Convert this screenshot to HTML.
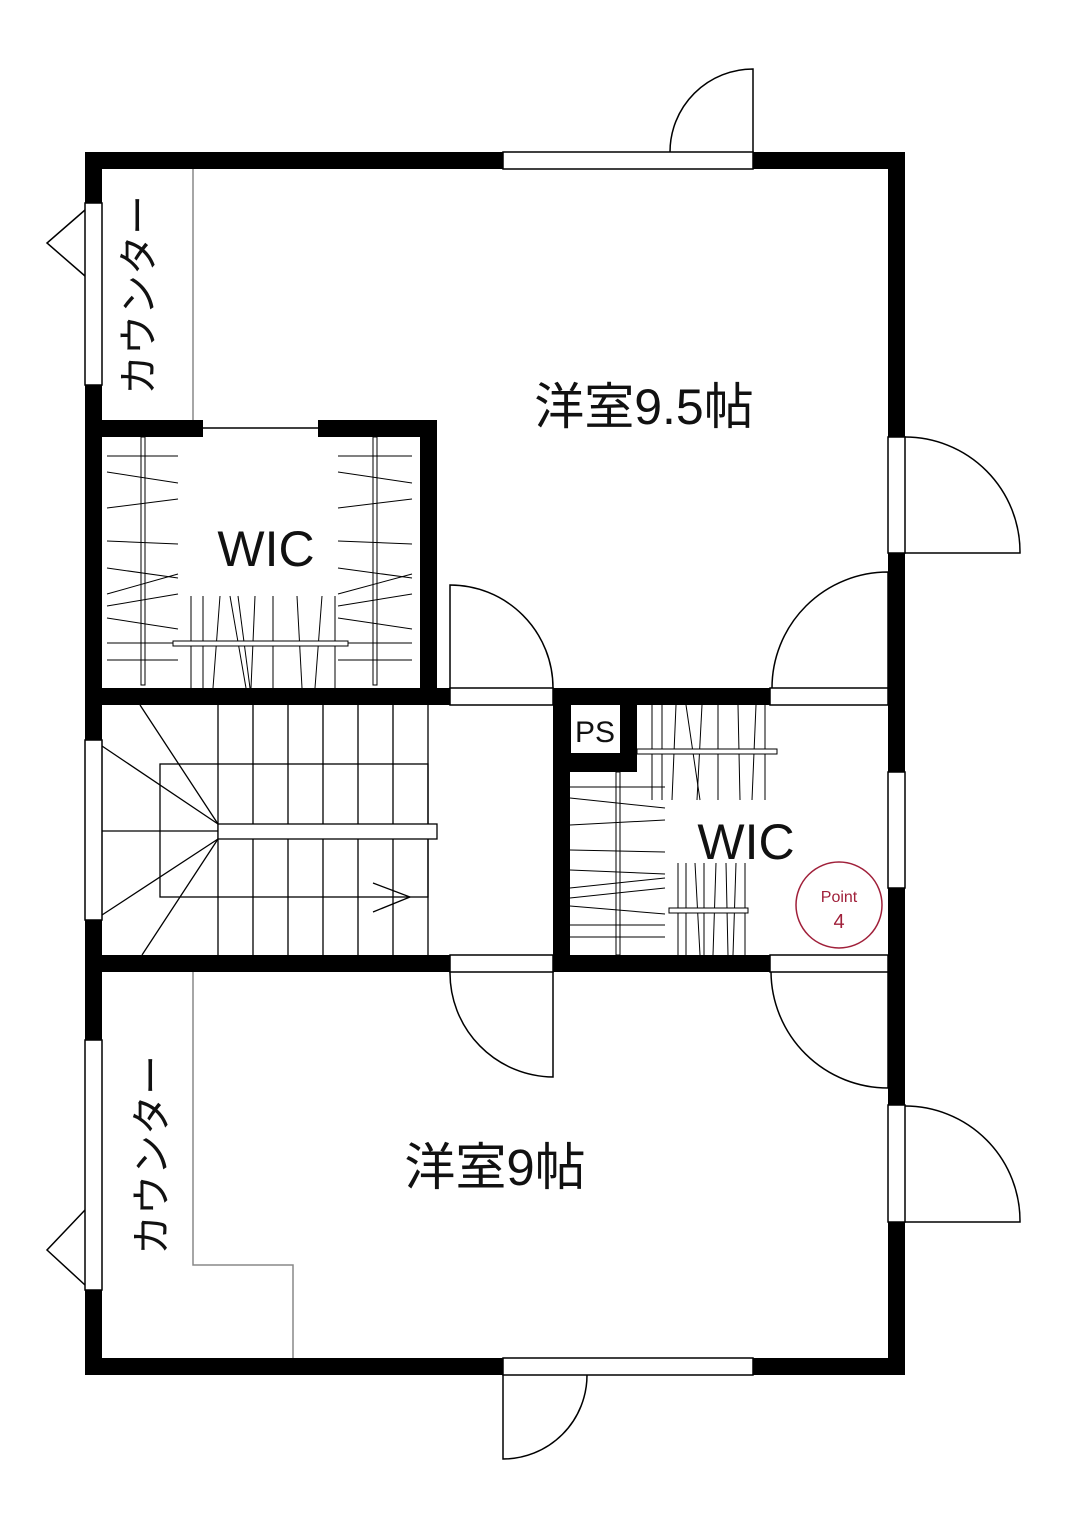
<!DOCTYPE html>
<html><head><meta charset="utf-8"><style>
html,body{margin:0;padding:0;background:#fff;}
svg{display:block;}
text{font-family:"Liberation Sans","Noto Sans CJK JP",sans-serif;fill:#111;}
</style></head><body>
<svg width="1071" height="1529" viewBox="0 0 1071 1529" xmlns="http://www.w3.org/2000/svg">
<g fill="#000">
<rect x="85" y="152" width="820" height="17"/>
<rect x="85" y="1358" width="820" height="17"/>
<rect x="85" y="152" width="17" height="1223"/>
<rect x="888" y="152" width="17" height="1223"/>
<rect x="85" y="420" width="118" height="17"/>
<rect x="318" y="420" width="119" height="17"/>
<rect x="420" y="420" width="17" height="285"/>
<rect x="85" y="688" width="365" height="17"/>
<rect x="553" y="688" width="217" height="17"/>
<rect x="553" y="688" width="17" height="284"/>
<rect x="553" y="688" width="84" height="84"/>
<rect x="85" y="955" width="365" height="17"/>
<rect x="553" y="955" width="217" height="17"/>
</g>
<g fill="#fff" stroke="#000" stroke-width="1.5">
<rect x="503" y="152" width="250" height="17"/>
<rect x="503" y="1358" width="250" height="17"/>
<rect x="85" y="203" width="17" height="182"/>
<rect x="85" y="740" width="17" height="180"/>
<rect x="85" y="1040" width="17" height="250"/>
<rect x="888" y="437" width="17" height="116"/>
<rect x="888" y="772" width="17" height="116"/>
<rect x="888" y="1105" width="17" height="117"/>
<rect x="450" y="688" width="103" height="17"/>
<rect x="770" y="688" width="118" height="17"/>
<rect x="450" y="955" width="103" height="17"/>
<rect x="770" y="955" width="118" height="17"/>
<rect x="571" y="705" width="49" height="48" stroke="none"/>
</g>
<g fill="none" stroke="#000" stroke-width="1.5">
<line x1="203" y1="428" x2="318" y2="428"/>
<path d="M753 152 V69 A83 83 0 0 0 670 152"/>
<path d="M450 688 V585 A103 103 0 0 1 553 688"/>
<path d="M888 688 V572 A116 116 0 0 0 772 688"/>
<path d="M905 553 H1020 A115 115 0 0 0 905 437"/>
<path d="M553 972 V1077 A104 104 0 0 1 450 972"/>
<path d="M888 972 V1088 A117 117 0 0 1 771 972"/>
<path d="M905 1222 H1020 A115 115 0 0 0 905 1106"/>
<path d="M503 1375 V1459 A84 84 0 0 0 587 1375"/>
<path d="M85 210 L47 243 L85 276"/>
<path d="M85 1210 L47 1250 L85 1285"/>
<line x1="193" y1="169" x2="193" y2="420" stroke="#888"/>
<path d="M193 972 V1265 H293 V1358" stroke="#888"/>
<g stroke-width="1.3">
<line x1="218" y1="705" x2="218" y2="955"/><line x1="253" y1="705" x2="253" y2="955"/>
<line x1="288" y1="705" x2="288" y2="955"/><line x1="323" y1="705" x2="323" y2="955"/>
<line x1="358" y1="705" x2="358" y2="955"/><line x1="393" y1="705" x2="393" y2="955"/>
<line x1="428" y1="705" x2="428" y2="955"/>
<rect x="160" y="764" width="268" height="133"/>
<rect x="218" y="824" width="219" height="15" fill="#fff"/>
<line x1="102" y1="831" x2="218" y2="831"/>
<line x1="140" y1="705" x2="218" y2="824"/>
<line x1="102" y1="746" x2="218" y2="824"/>
<line x1="218" y1="839" x2="102" y2="915"/>
<line x1="218" y1="839" x2="142" y2="955"/>
<path d="M373 883 L410 897 L373 912"/>
</g>
<g stroke-width="1">
<rect x="141" y="437" width="4" height="248"/>
<rect x="373" y="437" width="4" height="248"/>
<line x1="107" y1="456" x2="178" y2="456"/><line x1="107" y1="472" x2="178" y2="483"/>
<line x1="107" y1="508" x2="178" y2="499"/><line x1="107" y1="541" x2="178" y2="544"/>
<line x1="107" y1="568" x2="178" y2="578"/><line x1="107" y1="594" x2="178" y2="574"/>
<line x1="107" y1="606" x2="178" y2="594"/><line x1="107" y1="618" x2="178" y2="629"/>
<line x1="107" y1="643" x2="178" y2="643"/><line x1="107" y1="660" x2="178" y2="660"/>
<line x1="338" y1="456" x2="412" y2="456"/><line x1="338" y1="472" x2="412" y2="483"/>
<line x1="338" y1="508" x2="412" y2="499"/><line x1="338" y1="541" x2="412" y2="544"/>
<line x1="338" y1="568" x2="412" y2="578"/><line x1="338" y1="594" x2="412" y2="574"/>
<line x1="338" y1="606" x2="412" y2="594"/><line x1="338" y1="618" x2="412" y2="629"/>
<line x1="338" y1="643" x2="412" y2="643"/><line x1="338" y1="660" x2="412" y2="660"/>
<line x1="191" y1="596" x2="191" y2="688"/><line x1="203" y1="596" x2="203" y2="688"/>
<line x1="220" y1="596" x2="213" y2="688"/><line x1="230" y1="596" x2="246" y2="688"/>
<line x1="238" y1="596" x2="250" y2="688"/><line x1="255" y1="596" x2="251" y2="688"/>
<line x1="273" y1="596" x2="273" y2="688"/><line x1="297" y1="596" x2="302" y2="688"/>
<line x1="322" y1="596" x2="315" y2="688"/><line x1="335" y1="596" x2="335" y2="688"/>
<rect x="173" y="641" width="175" height="5" fill="#fff"/>
<line x1="652" y1="705" x2="652" y2="800"/><line x1="662" y1="705" x2="662" y2="800"/>
<line x1="676" y1="705" x2="672" y2="800"/><line x1="686" y1="705" x2="700" y2="800"/>
<line x1="702" y1="705" x2="697" y2="800"/><line x1="718" y1="705" x2="718" y2="800"/>
<line x1="738" y1="705" x2="740" y2="800"/><line x1="756" y1="705" x2="752" y2="800"/>
<line x1="765" y1="705" x2="765" y2="800"/>
<rect x="637" y="749" width="140" height="5" fill="#fff"/>
<rect x="616" y="772" width="4" height="183"/>
<line x1="570" y1="787" x2="665" y2="787"/><line x1="570" y1="798" x2="665" y2="808"/>
<line x1="570" y1="825" x2="665" y2="820"/><line x1="570" y1="850" x2="665" y2="852"/>
<line x1="570" y1="870" x2="665" y2="874"/><line x1="570" y1="888" x2="665" y2="878"/>
<line x1="570" y1="898" x2="665" y2="888"/><line x1="570" y1="906" x2="665" y2="914"/>
<line x1="570" y1="925" x2="665" y2="925"/><line x1="570" y1="937" x2="665" y2="937"/>
<line x1="678" y1="863" x2="678" y2="955"/><line x1="686" y1="863" x2="686" y2="955"/>
<line x1="695" y1="863" x2="700" y2="955"/><line x1="704" y1="863" x2="704" y2="955"/>
<line x1="716" y1="863" x2="713" y2="955"/><line x1="726" y1="863" x2="728" y2="955"/>
<line x1="736" y1="863" x2="733" y2="955"/><line x1="745" y1="863" x2="745" y2="955"/>
<rect x="669" y="908" width="79" height="5" fill="#fff"/>
</g>
</g>
<text x="644" y="424" font-size="50" text-anchor="middle">洋室9.5帖</text>
<text x="495" y="1185" font-size="51" text-anchor="middle">洋室9帖</text>
<text x="266" y="566" font-size="50" text-anchor="middle">WIC</text>
<text x="746" y="859" font-size="50" text-anchor="middle">WIC</text>
<text x="595" y="742" font-size="30" text-anchor="middle">PS</text>
<text transform="translate(142,295) rotate(-90)" font-size="40" text-anchor="middle" dominant-baseline="middle" fill="#333">カウンター</text>
<text transform="translate(155,1155) rotate(-90)" font-size="40" text-anchor="middle" dominant-baseline="middle" fill="#333">カウンター</text>
<circle cx="839" cy="905" r="43" fill="none" stroke="#a0203a" stroke-width="1.5"/>
<text x="839" y="902" font-size="16" text-anchor="middle" style="fill:#a0203a">Point</text>
<text x="839" y="928" font-size="20" text-anchor="middle" style="fill:#a0203a">4</text>
</svg>
</body></html>
